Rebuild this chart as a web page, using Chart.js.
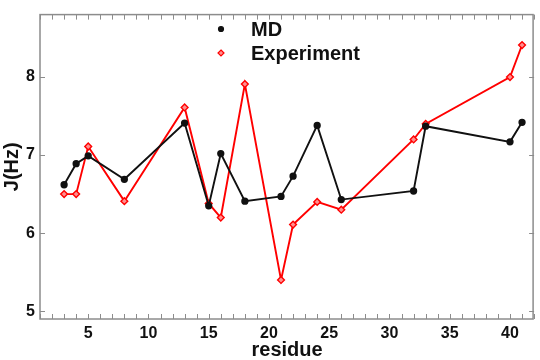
<!DOCTYPE html>
<html>
<head>
<meta charset="utf-8">
<script src="https://cdn.jsdelivr.net/npm/chart.js@4"></script>
<style>
  html, body { margin: 0; padding: 0; background: #fff; }
  #wrap { width: 540px; height: 360px; }
</style>
</head>
<body>
<div id="wrap"><canvas id="chart" width="540" height="360"></canvas></div>
<script>
const residues = [3, 4, 5, 8, 13, 15, 16, 18, 21, 22, 24, 26, 32, 33, 40, 41];
const mdValues = [6.62, 6.89, 6.99, 6.69, 7.41, 6.35, 7.02, 6.41, 6.47, 6.73, 7.38, 6.43, 6.54, 7.37, 7.17, 7.42];
const expValues = [6.5, 6.5, 7.11, 6.41, 7.61, 6.38, 6.2, 7.91, 5.4, 6.11, 6.4, 6.3, 7.2, 7.4, 8.0, 8.41];
const xTickLabels = [5, 10, 15, 20, 25, 30, 35, 40];
const yTickLabels = [5, 6, 7, 8];

const FONT = '"Liberation Sans", Arial, sans-serif';
const toPoints = vals => vals.map((v, i) => ({ x: residues[i], y: v }));

// box with inward ticks, matlab style
const boxPlugin = {
  id: 'box',
  afterDatasetsDraw(chart) {
    const { ctx, chartArea: a, scales } = chart;
    ctx.save();
    ctx.strokeStyle = '#8c8c8c';
    ctx.lineWidth = 1;
    ctx.beginPath();
    for (let v = 1; v <= 42; v++) {
      const px = Math.round(scales.x.getPixelForValue(v)) + 0.5;
      ctx.moveTo(px, a.top); ctx.lineTo(px, a.top + 5);
      ctx.moveTo(px, a.bottom); ctx.lineTo(px, a.bottom - 5);
    }
    yTickLabels.forEach(v => {
      const py = Math.round(scales.y.getPixelForValue(v)) + 0.5;
      ctx.moveTo(a.left, py); ctx.lineTo(a.left + 5, py);
      ctx.moveTo(a.right, py); ctx.lineTo(a.right - 5, py);
    });
    ctx.stroke();
    ctx.lineWidth = 1.5;
    ctx.strokeRect(a.left, a.top, a.right - a.left - 1, a.bottom - a.top);
    ctx.restore();
  }
};

// legend inside the axes, two rows
const legendPlugin = {
  id: 'innerLegend',
  afterDraw(chart) {
    const { ctx } = chart;
    ctx.save();
    ctx.font = 'bold 20px ' + FONT;
    ctx.textBaseline = 'middle';
    chart.data.datasets.forEach((ds, i) => {
      const y = 29 + i * 24;
      const mx = 221;
      ctx.fillStyle = ds.pointBackgroundColor;
      ctx.strokeStyle = ds.borderColor;
      ctx.lineWidth = 1.2;
      ctx.beginPath();
      if (ds.pointStyle === 'rectRot') {
        ctx.moveTo(mx, y - 3); ctx.lineTo(mx + 3, y); ctx.lineTo(mx, y + 3); ctx.lineTo(mx - 3, y); ctx.closePath();
      } else {
        ctx.arc(mx, y, 2.5, 0, Math.PI * 2);
      }
      ctx.fill(); ctx.stroke();
      ctx.fillStyle = '#111';
      ctx.fillText(ds.label, 251, y + 1);
    });
    ctx.restore();
  }
};

new Chart(document.getElementById('chart'), {
  type: 'line',
  data: {
    datasets: [
      {
        label: 'MD',
        data: toPoints(mdValues),
        borderColor: '#111111',
        backgroundColor: '#111111',
        pointBackgroundColor: '#111111',
        pointStyle: 'circle',
        pointRadius: 2.7,
        borderWidth: 1.9,
        tension: 0
      },
      {
        label: 'Experiment',
        data: toPoints(expValues),
        borderColor: '#ff0000',
        backgroundColor: '#ff0000',
        pointBackgroundColor: '#ff9090',
        pointStyle: 'rectRot',
        pointRadius: 3.4,
        pointBorderWidth: 1.4,
        borderWidth: 1.9,
        tension: 0
      }
    ]
  },
  options: {
    responsive: false,
    animation: false,
    layout: { padding: { top: 14, right: 1, left: 0, bottom: 0 } },
    plugins: { legend: { display: false }, tooltip: { enabled: false } },
    scales: {
      x: {
        type: 'linear',
        min: 1,
        max: 42,
        afterFit: s => { s.height = 41; },
        afterBuildTicks: s => { s.ticks = xTickLabels.map(v => ({ value: v })); },
        grid: { display: false, drawTicks: false },
        border: { display: false },
        ticks: { color: '#111', padding: 5, font: { family: FONT, size: 16, weight: 'bold' } },
        title: { display: true, text: 'residue', color: '#111', padding: { top: 0, bottom: -2 }, font: { family: FONT, size: 20, weight: 'bold' } }
      },
      y: {
        min: 4.9,
        max: 8.8,
        afterFit: s => { s.width = 40; },
        afterBuildTicks: s => { s.ticks = yTickLabels.map(v => ({ value: v })); },
        grid: { display: false, drawTicks: false },
        border: { display: false },
        ticks: { color: '#111', padding: 5, font: { family: FONT, size: 16, weight: 'bold' } },
        title: { display: true, text: 'J(Hz)', color: '#111', padding: { top: 0, bottom: 0 }, font: { family: FONT, size: 20, weight: 'bold' } }
      }
    }
  },
  plugins: [boxPlugin, legendPlugin]
});
</script>
</body>
</html>
